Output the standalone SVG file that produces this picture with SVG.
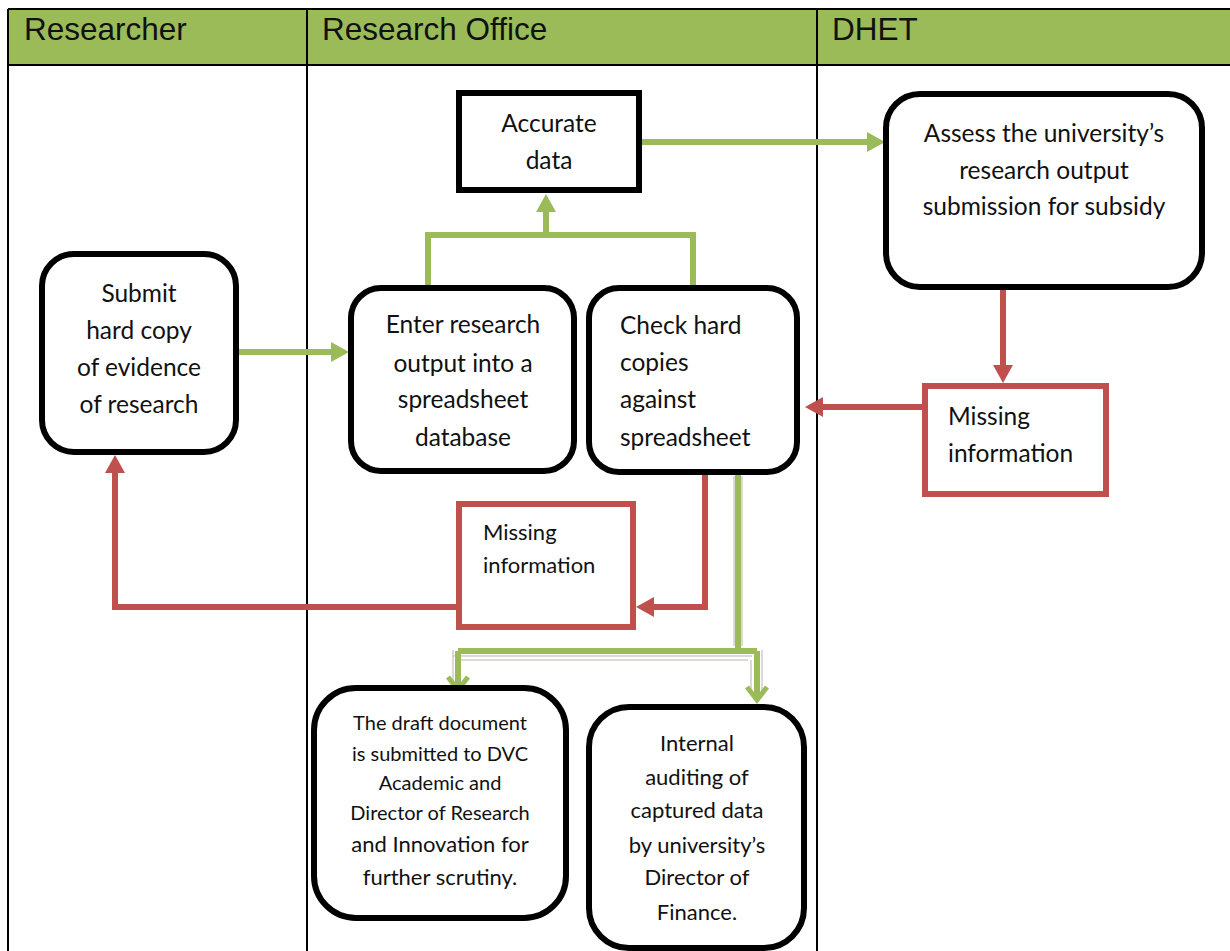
<svg xmlns="http://www.w3.org/2000/svg" width="1230" height="951" viewBox="0 0 1230 951">
  <style>
    .lane-title { font-family: "Liberation Sans", Arial, sans-serif; font-size: 31.5px; fill: #111; }
    .label { font-family: Lato, "Liberation Sans", sans-serif; font-size: 24.5px; fill: #111; }
    .mid { text-anchor: middle; }
    .step { fill: #fff; stroke: #000; stroke-width: 6; }
    .flag { fill: #fff; stroke: #c0504d; stroke-width: 6; }
    .grid { stroke: #000; stroke-width: 2; fill: none; }
    .ok { fill: none; stroke: #9bbb59; stroke-width: 6; }
    .back { fill: none; stroke: #c0504d; stroke-width: 6; }
    .ghost { fill: none; stroke: #d4cccc; stroke-width: 1.5; }
  </style>
  <defs>
    <marker id="head-green" markerUnits="userSpaceOnUse" markerWidth="20" markerHeight="20" refX="1" refY="10" orient="auto" overflow="visible">
      <path d="M0,0 L18,10 L0,20 z" fill="#9bbb59"/>
    </marker>
    <marker id="head-red" markerUnits="userSpaceOnUse" markerWidth="20" markerHeight="20" refX="1" refY="10" orient="auto" overflow="visible">
      <path d="M0,0 L18,10 L0,20 z" fill="#c0504d"/>
    </marker>
    <marker id="chevron-green" markerUnits="userSpaceOnUse" markerWidth="24" markerHeight="24" refX="0" refY="0" orient="auto" overflow="visible">
      <path d="M-13,-10 L0,0 L-13,10" fill="none" stroke="#9bbb59" stroke-width="5"/>
    </marker>
  </defs>

  <rect width="1230" height="951" fill="#fff"/>

  <!-- swimlane table -->
  <g id="lanes">
    <rect x="8" y="9" width="1222" height="56" fill="#9bbb59"/>
    <path class="grid" d="M8,9 H1230 M8,65 H1230 M8,9 V951 M307,9 V951 M817,9 V951"/>
    <text class="lane-title" x="24" y="40">Researcher</text>
    <text class="lane-title" x="322" y="40">Research Office</text>
    <text class="lane-title" x="832" y="40">DHET</text>
  </g>

  <!-- connectors -->
  <g id="connectors">
    <path class="ok" d="M237,352 H332" marker-end="url(#head-green)"/>
    <path class="ok" d="M428,288 V235 H693 V288"/>
    <path class="ok" d="M546,235 V211" marker-end="url(#head-green)"/>
    <path class="ok" d="M642,142 H868" marker-end="url(#head-green)"/>
    <path class="back" d="M1003,290 V366" marker-end="url(#head-red)"/>
    <path class="back" d="M922,407 H822" marker-end="url(#head-red)"/>
    <path class="back" d="M705,473 V607 H653" marker-end="url(#head-red)"/>
    <path class="back" d="M456,607 H115 V472" marker-end="url(#head-red)"/>
    <!-- faint outline around the split branch -->
    <path class="ghost" d="M734,476 V646 M742,476 V646 M452,656 H752 M455,660 H748 M453,650 V680 M751,660 V695 M762,650 V695"/>
    <path class="ok" d="M738,473 V651" stroke-width="5"/>
    <path class="ok" d="M458,651 H757" stroke-width="5"/>
    <path class="ok" d="M458,651 V690" stroke-width="5" marker-end="url(#chevron-green)"/>
    <path class="ok" d="M757,651 V700" stroke-width="5" marker-end="url(#chevron-green)"/>
  </g>

  <g id="submit-evidence">
    <rect class="step" x="42" y="254" width="194" height="198" rx="32"/>
    <text class="label mid"><tspan x="139" y="302">Submit</tspan><tspan x="139" y="339">hard copy</tspan><tspan x="139" y="376">of evidence</tspan><tspan x="139" y="413">of research</tspan></text>
  </g>

  <g id="accurate-data">
    <rect class="step" x="459" y="93" width="180" height="97"/>
    <text class="label mid"><tspan x="549" y="132">Accurate</tspan><tspan x="549" y="169">data</tspan></text>
  </g>

  <g id="enter-research-output">
    <rect class="step" x="351" y="288" width="223" height="183" rx="30"/>
    <text class="label mid"><tspan x="463" y="333">Enter research</tspan><tspan x="463" y="372">output into a</tspan><tspan x="463" y="408">spreadsheet</tspan><tspan x="463" y="446">database</tspan></text>
  </g>

  <g id="check-hard-copies">
    <rect class="step" x="589" y="288" width="208" height="184" rx="30"/>
    <text class="label"><tspan x="620" y="334">Check hard</tspan><tspan x="620" y="371">copies</tspan><tspan x="620" y="408">against</tspan><tspan x="620" y="446">spreadsheet</tspan></text>
  </g>

  <g id="assess-submission">
    <rect class="step" x="886" y="94" width="316" height="193" rx="34"/>
    <text class="label mid"><tspan x="1044" y="142">Assess the university’s</tspan><tspan x="1044" y="179">research output</tspan><tspan x="1044" y="215">submission for subsidy</tspan></text>
  </g>

  <g id="missing-info-dhet">
    <rect class="flag" x="925" y="386" width="181" height="108"/>
    <text class="label"><tspan x="948" y="425">Missing</tspan><tspan x="948" y="462">information</tspan></text>
  </g>

  <g id="missing-info-office">
    <rect class="flag" x="459" y="504" width="174" height="123"/>
    <text class="label" style="font-size:22px"><tspan x="483" y="540">Missing</tspan><tspan x="483" y="573">information</tspan></text>
  </g>

  <g id="draft-document">
    <rect class="step" x="314" y="688" width="252" height="230" rx="42"/>
    <text class="label mid" style="font-size:20px"><tspan x="440" y="730">The draft document</tspan><tspan x="440" y="761">is submitted to DVC</tspan><tspan x="440" y="790">Academic and</tspan><tspan x="440" y="820">Director of Research</tspan><tspan x="440" y="852" style="font-size:22px">and Innovation for</tspan><tspan x="440" y="885" style="font-size:22px">further scrutiny.</tspan></text>
  </g>

  <g id="internal-auditing">
    <rect class="step" x="589" y="707" width="215" height="241" rx="40"/>
    <text class="label mid" style="font-size:22px"><tspan x="697" y="751">Internal</tspan><tspan x="697" y="785">auditing of</tspan><tspan x="697" y="818">captured data</tspan><tspan x="697" y="853">by university’s</tspan><tspan x="697" y="885">Director of</tspan><tspan x="697" y="920">Finance.</tspan></text>
  </g>
</svg>
